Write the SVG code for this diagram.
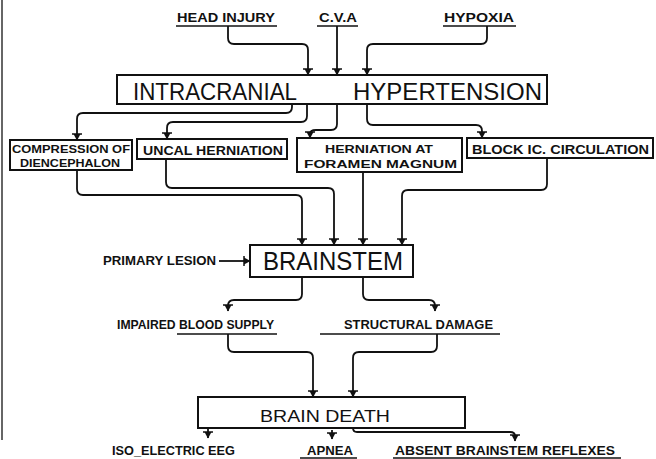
<svg xmlns="http://www.w3.org/2000/svg" width="656" height="459" viewBox="0 0 656 459">
<style>
  text { font-family: "Liberation Sans", Arial, sans-serif; fill: #111; }
  .sm { font-size: 13px; font-weight: bold; }
  .xs { font-size: 11.5px; font-weight: bold; }
  .box { fill: none; stroke: #111; stroke-width: 2; }
  .ln { fill: none; stroke: #111; stroke-width: 1.8; }
  .ul { stroke: #111; stroke-width: 1.6; }
</style>
<defs>
  <marker id="arr" markerUnits="userSpaceOnUse" markerWidth="10" markerHeight="10" viewBox="0 0 10 10" refX="9" refY="5" orient="auto">
    <path d="M3,1.5 L9.5,5 L3,8.5 z" fill="#111"/>
    <path d="M3,0 V10" stroke="#111" stroke-width="1.5"/>
  </marker>
</defs>
<rect width="656" height="459" fill="#fff"/>
<line x1="2" y1="0" x2="2" y2="440" stroke="#333" stroke-width="1.5"/>

<g id="head-injury">
  <text class="sm" x="177" y="22" textLength="98" lengthAdjust="spacingAndGlyphs">HEAD INJURY</text>
  <line class="ul" x1="176" y1="26" x2="277" y2="26"/>
</g>
<g id="cva">
  <text class="sm" x="319" y="22" textLength="38" lengthAdjust="spacingAndGlyphs">C.V.A</text>
  <line class="ul" x1="317" y1="26" x2="358" y2="26"/>
</g>
<g id="hypoxia">
  <text class="sm" x="444" y="22" textLength="70" lengthAdjust="spacingAndGlyphs">HYPOXIA</text>
  <line class="ul" x1="443" y1="26" x2="516" y2="26"/>
</g>

<g id="ich">
  <rect class="box" x="117" y="75" width="430" height="29"/>
  <text x="133" y="100" font-size="24" textLength="164" lengthAdjust="spacingAndGlyphs">INTRACRANIAL</text>
  <text x="353" y="100" font-size="24" textLength="189" lengthAdjust="spacingAndGlyphs">HYPERTENSION</text>
</g>

<g id="compression">
  <rect class="box" x="10" y="140" width="122" height="30"/>
  <text class="xs" x="12" y="153" textLength="118" lengthAdjust="spacingAndGlyphs">COMPRESSION OF</text>
  <text class="xs" x="20" y="167" textLength="100" lengthAdjust="spacingAndGlyphs">DIENCEPHALON</text>
</g>
<g id="uncal">
  <rect class="box" x="137" y="139" width="150" height="20"/>
  <text class="sm" x="143" y="155" textLength="140" lengthAdjust="spacingAndGlyphs">UNCAL HERNIATION</text>
</g>
<g id="foramen">
  <rect class="box" x="297" y="138" width="165" height="34"/>
  <text class="xs" x="325" y="153" textLength="108" lengthAdjust="spacingAndGlyphs">HERNIATION AT</text>
  <text class="xs" x="304" y="168" textLength="153" lengthAdjust="spacingAndGlyphs">FORAMEN  MAGNUM</text>
</g>
<g id="block">
  <rect class="box" x="467" y="138" width="186" height="20"/>
  <text class="sm" x="472" y="154" textLength="177" lengthAdjust="spacingAndGlyphs">BLOCK IC. CIRCULATION</text>
</g>

<g id="brainstem">
  <rect class="box" x="250" y="245" width="163" height="32"/>
  <text x="263" y="270" font-size="25" textLength="140" lengthAdjust="spacingAndGlyphs">BRAINSTEM</text>
</g>
<g id="primary-lesion">
  <text class="sm" x="103" y="265" textLength="113" lengthAdjust="spacingAndGlyphs">PRIMARY LESION</text>
</g>

<g id="impaired">
  <text class="sm" x="117" y="329" textLength="157" lengthAdjust="spacingAndGlyphs">IMPAIRED BLOOD SUPPLY</text>
  <line class="ul" x1="177" y1="334" x2="277" y2="334"/>
</g>
<g id="structural">
  <text class="sm" x="344" y="329" textLength="149" lengthAdjust="spacingAndGlyphs">STRUCTURAL DAMAGE</text>
  <line class="ul" x1="320" y1="334" x2="500" y2="334"/>
</g>

<g id="brain-death">
  <rect class="box" x="198" y="397" width="267" height="31"/>
  <text x="260" y="422" font-size="17" textLength="130" lengthAdjust="spacingAndGlyphs">BRAIN DEATH</text>
</g>

<g id="iso-eeg">
  <text class="sm" x="112" y="455" textLength="123" lengthAdjust="spacingAndGlyphs">ISO_ELECTRIC EEG</text>
</g>
<g id="apnea">
  <text class="sm" x="307" y="455" textLength="46" lengthAdjust="spacingAndGlyphs">APNEA</text>
  <line class="ul" x1="300" y1="458" x2="357" y2="458"/>
</g>
<g id="absent">
  <text class="sm" x="395" y="455" textLength="220" lengthAdjust="spacingAndGlyphs">ABSENT BRAINSTEM REFLEXES</text>
  <line class="ul" x1="393" y1="458" x2="621" y2="458"/>
</g>

<g id="connectors" class="ln">
  <path marker-end="url(#arr)" d="M228,26 V38 Q228,44 234,44 H302 Q308,44 308,50 V75"/>
  <path marker-end="url(#arr)" d="M337,26 V75"/>
  <path marker-end="url(#arr)" d="M487,26 V38 Q487,44 481,44 H373 Q367,44 367,50 V75"/>

  <path marker-end="url(#arr)" d="M292,104 V107 Q292,113 286,113 H83 Q77,113 77,119 V140"/>
  <path marker-end="url(#arr)" d="M307,104 V116 Q307,122 301,122 H173 Q167,122 167,128 V139"/>
  <path marker-end="url(#arr)" d="M337,104 V124 Q337,130 331,130 H316 Q310,130 310,134 V138"/>
  <path marker-end="url(#arr)" d="M367,104 V119 Q367,125 373,125 H476 Q482,125 482,131 V138"/>

  <path marker-end="url(#arr)" d="M77,170 V189 Q77,195 83,195 H296 Q302,195 302,201 V245"/>
  <path marker-end="url(#arr)" d="M166,159 V182 Q166,188 172,188 H328 Q334,188 334,194 V245"/>
  <path marker-end="url(#arr)" d="M363,172 V245"/>
  <path marker-end="url(#arr)" d="M547,158 V184 Q547,190 541,190 H408 Q402,190 402,196 V245"/>

  <path marker-end="url(#arr)" d="M219,261 H250"/>

  <path marker-end="url(#arr)" d="M302,277 V294 Q302,300 296,300 H234 Q228,300 228,306 V311"/>
  <path marker-end="url(#arr)" d="M363,277 V294 Q363,300 369,300 H429 Q435,300 435,306 V311"/>

  <path marker-end="url(#arr)" d="M228,334 V346 Q228,352 234,352 H307 Q313,352 313,358 V397"/>
  <path marker-end="url(#arr)" d="M437,334 V346 Q437,352 431,352 H359 Q353,352 353,358 V397"/>

  <path marker-end="url(#arr)" d="M208,428 V438"/>
  <path marker-end="url(#arr)" d="M332,430 V439"/>
  <path marker-end="url(#arr)" d="M353,428 Q353,432 357,432 H510 Q515,432 515,436 V441"/>
</g>
</svg>
